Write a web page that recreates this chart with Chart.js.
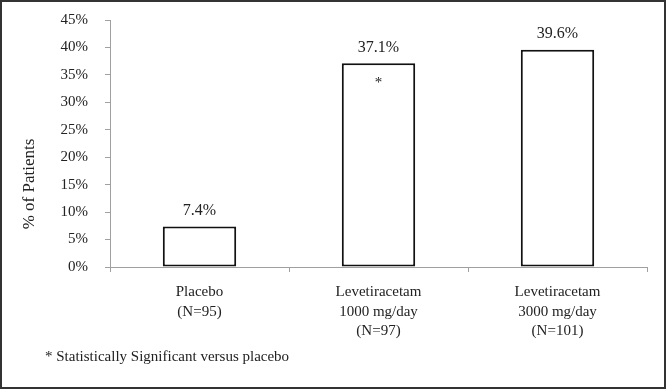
<!DOCTYPE html>
<html>
<head>
<meta charset="utf-8">
<script src="https://cdn.jsdelivr.net/npm/chart.js@4/dist/chart.umd.min.js"></script>
<style>
html,body{margin:0;padding:0;background:#fff;}
#wrap{width:666px;height:389px;position:relative;}
</style>
</head>
<body>
<div id="wrap"><canvas id="c" width="666" height="389"></canvas></div>
<script>
const categories = [["Placebo","(N=95)"],["Levetiracetam","1000 mg/day","(N=97)"],["Levetiracetam","3000 mg/day","(N=101)"]];
const values = [7.4, 37.1, 39.6];
const valueLabels = ["7.4%","37.1%","39.6%"];
const significant = [false, true, false];
const footnote = "* Statistically Significant versus placebo";
const yTitle = "% of Patients";

const FONT = "'Liberation Serif','Times New Roman',serif";
const TXT = "#222";

const decor = {
  id: 'decor',
  beforeDraw(chart) {
    const ctx = chart.ctx;
    ctx.save();
    ctx.fillStyle = '#fff';
    ctx.fillRect(0, 0, chart.width, chart.height);
    ctx.restore();
  },
  afterDraw(chart) {
    const ctx = chart.ctx;
    const meta = chart.getDatasetMeta(0);
    const area = chart.chartArea;
    ctx.save();
    ctx.fillStyle = TXT;
    ctx.font = "16px " + FONT;
    ctx.textAlign = 'center';
    ctx.textBaseline = 'middle';
    meta.data.forEach((bar, i) => {
      ctx.fillText(valueLabels[i], bar.x, bar.y - 16);
      if (significant[i]) {
        ctx.font = "15px " + FONT;
        ctx.fillText("*", bar.x, bar.y + 20);
        ctx.font = "16px " + FONT;
      }
    });
    ctx.save();
    ctx.translate(30, area.bottom - 83);
    ctx.rotate(-Math.PI / 2);
    ctx.font = "17px " + FONT;
    ctx.fillText(yTitle, 0, 0);
    ctx.restore();
    ctx.textAlign = 'left';
    ctx.font = "15px " + FONT;
    ctx.fillText(footnote, 45, area.bottom + 90);
    ctx.strokeStyle = '#333';
    ctx.lineWidth = 2;
    ctx.strokeRect(1, 1, chart.width - 2, chart.height - 2);
    ctx.restore();
  }
};

new Chart(document.getElementById('c'), {
  type: 'bar',
  data: {
    labels: categories,
    datasets: [{
      data: values,
      backgroundColor: '#fff',
      borderColor: '#111',
      borderWidth: 2,
      borderSkipped: false,
      categoryPercentage: 1,
      barPercentage: 0.41
    }]
  },
  options: {
    responsive: false,
    animation: false,
    devicePixelRatio: 1,
    layout: { padding: { left: 0, right: 19, top: 20, bottom: 0 } },
    plugins: { legend: { display: false }, tooltip: { enabled: false } },
    scales: {
      x: {
        grid: { drawOnChartArea: false, drawTicks: true, tickLength: 5, color: '#a0a0a0', offset: true },
        border: { color: '#a0a0a0', width: 1 },
        ticks: { color: TXT, font: { family: FONT, size: 15, lineHeight: 1.27 }, padding: 11, maxRotation: 0, autoSkip: false },
        afterFit(scale) { scale.height = 122; }
      },
      y: {
        min: 0, max: 45,
        grid: { drawOnChartArea: false, drawTicks: true, tickLength: 5, color: '#a0a0a0' },
        border: { color: '#a0a0a0', width: 1 },
        ticks: { stepSize: 5, color: TXT, font: { family: FONT, size: 15, lineHeight: 0.2 }, padding: 17, callback: v => v + '%' },
        title: { display: false },
        afterFit(scale) { scale.width = 110; }
      }
    }
  },
  plugins: [decor]
});
</script>
</body>
</html>
